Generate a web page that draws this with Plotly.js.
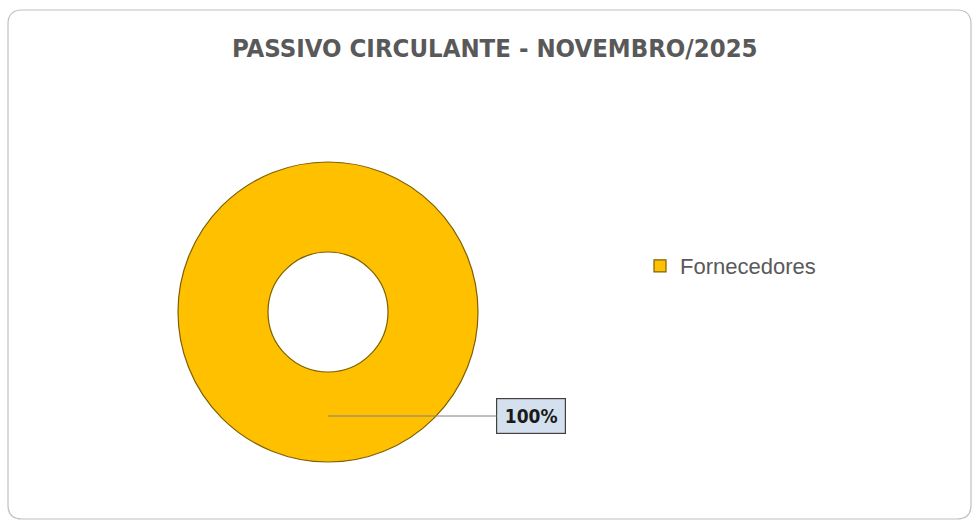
<!DOCTYPE html>
<html>
<head>
<meta charset="utf-8">
<script src="https://cdn.plot.ly/plotly-3.0.1.min.js"></script>
<style>
html,body{margin:0;padding:0;background:#fff;}
#chart{width:976px;height:524px;}
</style>
</head>
<body>
<div id="chart"></div>
<script>
var chartTitle = "PASSIVO CIRCULANTE - NOVEMBRO/2025";
var categories = ["Fornecedores"];
var values = [100];
var colors = ["#FFC000"];

var W = 976, H = 524;
function px(x){return x / W;}
function py(y){return 1 - y / H;}

var total = values.reduce(function(a,b){return a+b;},0);
var pctText = Math.round(values[0] / total * 100) + "%";

// rounded border path
var bx0 = 8, by0 = 10, bx1 = 971, by1 = 519, r = 14;
var path = "M" + px(bx0 + r) + "," + py(by0) +
  " L" + px(bx1 - r) + "," + py(by0) +
  " Q" + px(bx1) + "," + py(by0) + " " + px(bx1) + "," + py(by0 + r) +
  " L" + px(bx1) + "," + py(by1 - r) +
  " Q" + px(bx1) + "," + py(by1) + " " + px(bx1 - r) + "," + py(by1) +
  " L" + px(bx0 + r) + "," + py(by1) +
  " Q" + px(bx0) + "," + py(by1) + " " + px(bx0) + "," + py(by1 - r) +
  " L" + px(bx0) + "," + py(by0 + r) +
  " Q" + px(bx0) + "," + py(by0) + " " + px(bx0 + r) + "," + py(by0) + " Z";

var trace = {
  type: "pie",
  labels: categories,
  values: values,
  hole: 0.4,
  sort: false,
  textinfo: "none",
  hoverinfo: "label+percent",
  marker: {colors: colors, line: {color: "#7F6000", width: 1.2}},
  domain: {x: [px(178), px(478)], y: [py(462), py(162)]}
};

var layout = {
  width: W, height: H,
  margin: {l: 0, r: 0, t: 0, b: 0},
  paper_bgcolor: "#ffffff",
  plot_bgcolor: "#ffffff",
  title: {
    text: "<b>" + chartTitle + "</b>",
    font: {family: "DejaVu Sans Condensed, sans-serif", size: 25.5, color: "#595959"},
    x: 0.507, xanchor: "center", y: py(48), yanchor: "middle"
  },
  showlegend: true,
  legend: {
    x: px(640), xanchor: "left", y: py(266), yanchor: "middle",
    font: {family: "Liberation Sans, Arial, sans-serif", size: 22, color: "#595959"},
    bgcolor: "rgba(0,0,0,0)"
  },
  shapes: [{
    type: "path", xref: "paper", yref: "paper", path: path,
    line: {color: "#C0C0C0", width: 1.2}, fillcolor: "rgba(0,0,0,0)", layer: "below"
  }],
  annotations: [{
    xref: "paper", yref: "paper",
    x: px(328), y: py(416),
    text: "<b>" + pctText + "</b>",
    font: {family: "DejaVu Sans Condensed, sans-serif", size: 19, color: "#1a1a1a"},
    bgcolor: "#D5E0EE", bordercolor: "#404040", borderwidth: 1.2,
    width: 66, height: 32,
    showarrow: true, arrowhead: 0, arrowwidth: 1, arrowcolor: "#808080",
    axref: "pixel", ayref: "pixel", ax: 203, ay: 0, standoff: 0
  }]
};

Plotly.newPlot("chart", [trace], layout, {displayModeBar: false, staticPlot: true});
</script>
</body>
</html>
